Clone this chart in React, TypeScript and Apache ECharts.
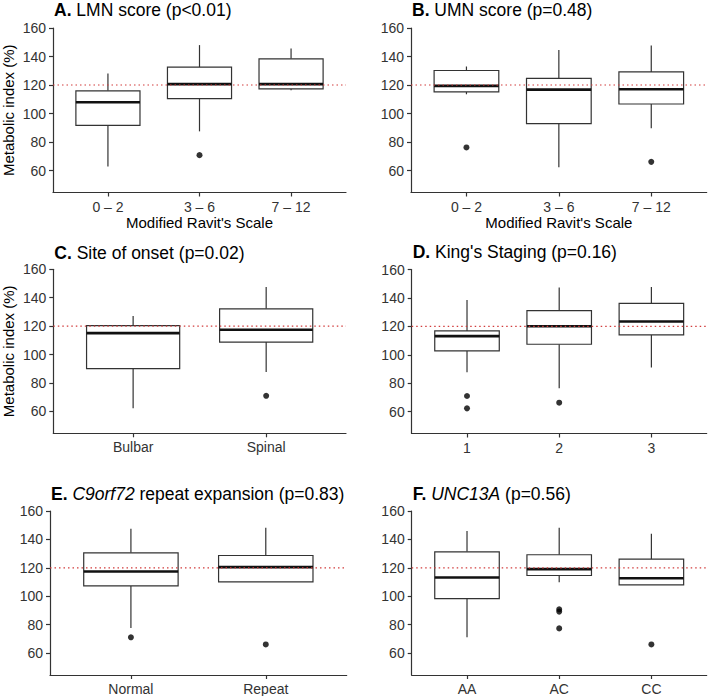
import React, { useEffect, useRef } from 'react';
import * as echarts from 'echarts';

// ---------- data ----------
const ravitCats = ['0 – 2', '3 – 6', '7 – 12'];
const onsetCats = ['Bulbar', 'Spinal'];
const kingsCats = ['1', '2', '3'];
const c9Cats = ['Normal', 'Repeat'];
const uncCats = ['AA', 'AC', 'CC'];

// each box: [lower whisker, Q1, median, Q3, upper whisker]
const lmnBoxes = [
  [62.8, 91.7, 107.9, 115.9, 128.1],
  [87.5, 110.5, 120.6, 132.5, 148.0],
  [116.3, 117.3, 120.6, 138.4, 145.7],
];
// outliers: [category number (1-based), value]
const lmnOutliers = [[2, 70.8]];

const umnBoxes = [
  [113.5, 115.2, 119.4, 130.2, 133.0],
  [62.3, 92.9, 116.8, 124.6, 144.5],
  [89.6, 106.7, 117.0, 129.2, 147.8],
];
const umnOutliers = [[1, 76.2], [3, 66.1]];

const onsetBoxes = [
  [62.3, 90.1, 115.1, 120.3, 127.1],
  [87.8, 108.8, 117.5, 132.2, 147.6],
];
const onsetOutliers = [[2, 71.0]];

const kingsBoxes = [
  [87.7, 102.7, 113.1, 116.8, 138.6],
  [76.4, 107.4, 120.1, 131.1, 147.3],
  [91.0, 114.0, 123.4, 136.1, 147.6],
];
const kingsOutliers = [[1, 71.0], [1, 62.3], [2, 66.3]];

const c9Boxes = [
  [77.6, 107.3, 117.4, 130.6, 147.5],
  [110.1, 110.1, 120.5, 128.7, 148.2],
];
const c9Outliers = [[1, 71.1], [2, 66.1]];

const uncBoxes = [
  [71.1, 98.4, 113.2, 131.3, 145.9],
  [109.9, 114.6, 119.1, 129.2, 148.2],
  [108.0, 108.0, 112.7, 126.1, 144.0],
];
const uncOutliers = [[2, 90.8], [2, 89.2], [2, 77.4], [3, 66.1]];

const yTicks = [60, 80, 100, 120, 140, 160];
const referenceLine = 120;

const titles = [
  '{b|A.} LMN score (p<0.01)',
  '{b|B.} UMN score (p=0.48)',
  '{b|C.} Site of onset (p=0.02)',
  "{b|D.} King's Staging (p=0.16)",
  '{b|E.} {i|C9orf72} repeat expansion (p=0.83)',
  '{b|F.} {i|UNC13A} (p=0.56)',
];
const xTitle = "Modified Ravit's Scale";
const yTitle = 'Metabolic index (%)';

// ---------- layout ----------
const FONT = '"Liberation Sans", Arial, Helvetica, sans-serif';
const AXIS = '#333333';

const panels = [
  { cats: ravitCats, boxes: lmnBoxes, out: lmnOutliers, left: 53, top: 28, width: 293, height: 164.5, xName: xTitle, yName: yTitle, titleTop: 1 },
  { cats: ravitCats, boxes: umnBoxes, out: umnOutliers, left: 411, top: 28, width: 295.7, height: 164.5, xName: xTitle, yName: '', titleTop: 1 },
  { cats: onsetCats, boxes: onsetBoxes, out: onsetOutliers, left: 53.3, top: 269.3, width: 292.7, height: 164, xName: '', yName: yTitle, titleTop: 243.5 },
  { cats: kingsCats, boxes: kingsBoxes, out: kingsOutliers, left: 411.7, top: 269.5, width: 295, height: 164, xName: '', yName: '', titleTop: 243 },
  { cats: c9Cats, boxes: c9Boxes, out: c9Outliers, left: 50, top: 511, width: 296.7, height: 164, xName: '', yName: '', titleTop: 485 },
  { cats: uncCats, boxes: uncBoxes, out: uncOutliers, left: 411.7, top: 511, width: 295, height: 164, xName: '', yName: '', titleTop: 485 },
];

function renderBox(params: any, api: any) {
  const x = api.value(0);
  const lo = api.value(1);
  const q1 = api.value(2);
  const med = api.value(3);
  const q3 = api.value(4);
  const hi = api.value(5);
  const pHi = api.coord([x, hi]);
  const pQ3 = api.coord([x, q3]);
  const pMed = api.coord([x, med]);
  const pQ1 = api.coord([x, q1]);
  const pLo = api.coord([x, lo]);
  const w = api.size([0.7, 0])[0];
  const cx = pMed[0];
  const stroke = { stroke: '#333333', lineWidth: 1.2, fill: 'none' };
  return {
    type: 'group',
    children: [
      { type: 'line', shape: { x1: cx, y1: pHi[1], x2: cx, y2: pQ3[1] }, style: stroke },
      { type: 'line', shape: { x1: cx, y1: pQ1[1], x2: cx, y2: pLo[1] }, style: stroke },
      {
        type: 'rect',
        shape: { x: cx - w / 2, y: pQ3[1], width: w, height: pQ1[1] - pQ3[1] },
        style: { fill: '#ffffff', stroke: '#333333', lineWidth: 1.2 },
      },
      {
        type: 'line',
        shape: { x1: cx - w / 2, y1: pMed[1], x2: cx + w / 2, y2: pMed[1] },
        style: { stroke: '#111111', lineWidth: 2.6 },
      },
    ],
  };
}

function renderRefLine(params: any, api: any) {
  const cs = params.coordSys;
  const y = api.coord([1, api.value(0)])[1];
  return {
    type: 'line',
    shape: { x1: cs.x, y1: y, x2: cs.x + cs.width, y2: y },
    style: { stroke: '#d23c3c', lineWidth: 1.2, lineDash: [1.5, 3], fill: 'none' },
  };
}

function buildOption() {
  const grid: any[] = [];
  const xAxis: any[] = [];
  const yAxis: any[] = [];
  const series: any[] = [];
  const title: any[] = [];
  const richBase = { fontSize: 17.5, fontFamily: FONT, color: '#000' };

  panels.forEach((p, i) => {
    const n = p.cats.length;
    const catVals = p.cats.map((_, k) => k + 1);
    grid.push({ left: p.left, top: p.top, width: p.width, height: p.height, outerBoundsMode: 'none', containLabel: false });
    xAxis.push({
      type: 'value',
      gridIndex: i,
      min: 0.4,
      max: n + 0.6,
      splitLine: { show: false },
      axisLine: { show: true, lineStyle: { color: AXIS, width: 1.2 } },
      axisTick: { show: true, customValues: catVals, length: 4, lineStyle: { color: AXIS, width: 1.2 } },
      axisLabel: {
        customValues: catVals,
        formatter: (v: number) => p.cats[Math.round(v) - 1] ?? '',
        margin: 7,
        color: '#333',
        fontSize: 14,
        fontFamily: FONT,
      },
      name: p.xName,
      nameLocation: 'middle',
      nameGap: 22,
      nameTextStyle: { fontSize: 15, fontFamily: FONT, color: '#000', verticalAlign: 'top' },
    });
    yAxis.push({
      type: 'value',
      gridIndex: i,
      min: 44.6,
      max: 160,
      splitLine: { show: false },
      axisLine: { show: true, lineStyle: { color: AXIS, width: 1.2 } },
      axisTick: { show: true, customValues: yTicks, length: 4, lineStyle: { color: AXIS, width: 1.2 } },
      axisLabel: { customValues: yTicks, margin: 7, color: '#333', fontSize: 14, fontFamily: FONT },
      name: p.yName,
      nameLocation: 'middle',
      nameGap: 37,
      nameTextStyle: { fontSize: 15, fontFamily: FONT, color: '#000' },
    });
    series.push({
      type: 'custom',
      xAxisIndex: i,
      yAxisIndex: i,
      data: p.boxes.map((b, k) => [k + 1, ...b]),
      encode: { x: 0, y: [1, 2, 3, 4, 5] },
      renderItem: renderBox,
      silent: true,
      z: 2,
    });
    series.push({
      type: 'scatter',
      xAxisIndex: i,
      yAxisIndex: i,
      data: p.out,
      symbol: 'circle',
      symbolSize: 6,
      itemStyle: { color: '#000' },
      silent: true,
      z: 3,
    });
    series.push({
      type: 'custom',
      xAxisIndex: i,
      yAxisIndex: i,
      data: [[referenceLine]],
      encode: { y: 0 },
      renderItem: renderRefLine,
      silent: true,
      z: 4,
    });
    title.push({
      text: titles[i],
      left: p.left + 1,
      top: p.titleTop,
      padding: 0,
      textStyle: {
        ...richBase,
        fontWeight: 'normal',
        rich: {
          b: { ...richBase, fontWeight: 'bold' },
          i: { ...richBase, fontStyle: 'italic' },
        },
      },
    });
  });

  return {
    animation: false,
    backgroundColor: '#ffffff',
    title,
    grid,
    xAxis,
    yAxis,
    series,
  };
}

export default function App() {
  const ref = useRef<HTMLDivElement>(null);
  useEffect(() => {
    const chart = echarts.init(ref.current!, null, { renderer: 'svg' });
    chart.setOption(buildOption() as any);
    return () => chart.dispose();
  }, []);
  return <div ref={ref} style={{ position: 'absolute', left: 0, top: 0, width: 708, height: 696 }} />;
}
